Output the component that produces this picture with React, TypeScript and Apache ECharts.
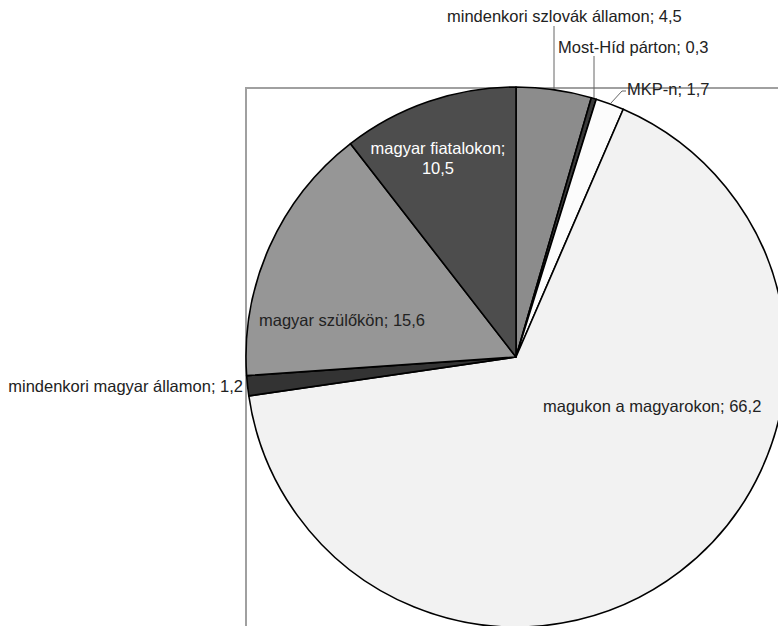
import React, { useEffect, useRef } from "react";
import * as echarts from "echarts";

const categories = [
  "mindenkori szlovák államon",
  "Most-Híd párton",
  "MKP-n",
  "magukon a magyarokon",
  "mindenkori magyar államon",
  "magyar szülőkön",
  "magyar fiatalokon",
];
const values = [4.5, 0.3, 1.7, 66.2, 1.2, 15.6, 10.5];
const colors = ["#8c8c8c", "#3a3a3a", "#fcfcfc", "#f2f2f2", "#333333", "#969696", "#4d4d4d"];

// label placement (x, y, align)
const labelPos: [number, number, string][] = [
  [447, 16, "left"],
  [558, 47, "left"],
  [627, 89, "left"],
  [543, 406, "left"],
  [243, 386, "right"],
  [259, 320, "left"],
  [438, 158, "center"],
];
const leaderLines: (number[][] | null)[] = [
  [[554, 89], [554, 26]],
  [[594, 99], [594, 56]],
  [[611, 103], [622, 91], [626, 91]],
  null,
  null,
  null,
  null,
];

export default function App() {
  const ref = useRef<HTMLDivElement>(null);
  useEffect(() => {
    document.body.style.margin = "0";
    const chart = echarts.init(ref.current!, null, { renderer: "svg" });
    const fmt = (v: number) => String(v).replace(".", ",");
    chart.setOption({
      animation: false,
      backgroundColor: "#ffffff",
      graphic: [
        {
          type: "rect",
          z: 0,
          shape: { x: 246, y: 88, width: 700, height: 700 },
          style: { fill: "none", stroke: "#a0a0a0", lineWidth: 2 },
        },
      ],
      series: [
        {
          type: "pie",
          z: 2,
          center: [516, 357],
          radius: 270,
          startAngle: 90,
          clockwise: true,
          avoidLabelOverlap: false,
          itemStyle: { borderColor: "#000", borderWidth: 1.6 },
          label: {
            show: true,
            position: "outside",
            fontFamily: "Liberation Sans, Arial, sans-serif",
            fontSize: 16.5,
            color: "#222222",
            lineHeight: 20,
          },
          labelLine: { show: false, lineStyle: { color: "#666", width: 1 } },
          labelLayout: (p: any) => {
            const i = p.dataIndex;
            const [x, y, align] = labelPos[i];
            const r: any = { x, y, align, verticalAlign: "middle" };
            if (leaderLines[i]) r.labelLinePoints = leaderLines[i];
            return r;
          },
          data: categories.map((name, i) => ({
            name,
            value: values[i],
            itemStyle: { color: colors[i] },
            label: {
              formatter:
                i === 6 ? `${name};\n${fmt(values[i])}` : `${name}; ${fmt(values[i])}`,
              color: i === 6 ? "#ffffff" : "#222222",
            },
            labelLine: { show: !!leaderLines[i], length: 10, length2: 10 },
          })),
        },
      ],
    });
    return () => chart.dispose();
  }, []);
  return (
    <div
      ref={ref}
      style={{ position: "absolute", left: 0, top: 0, width: 778, height: 626 }}
    />
  );
}
